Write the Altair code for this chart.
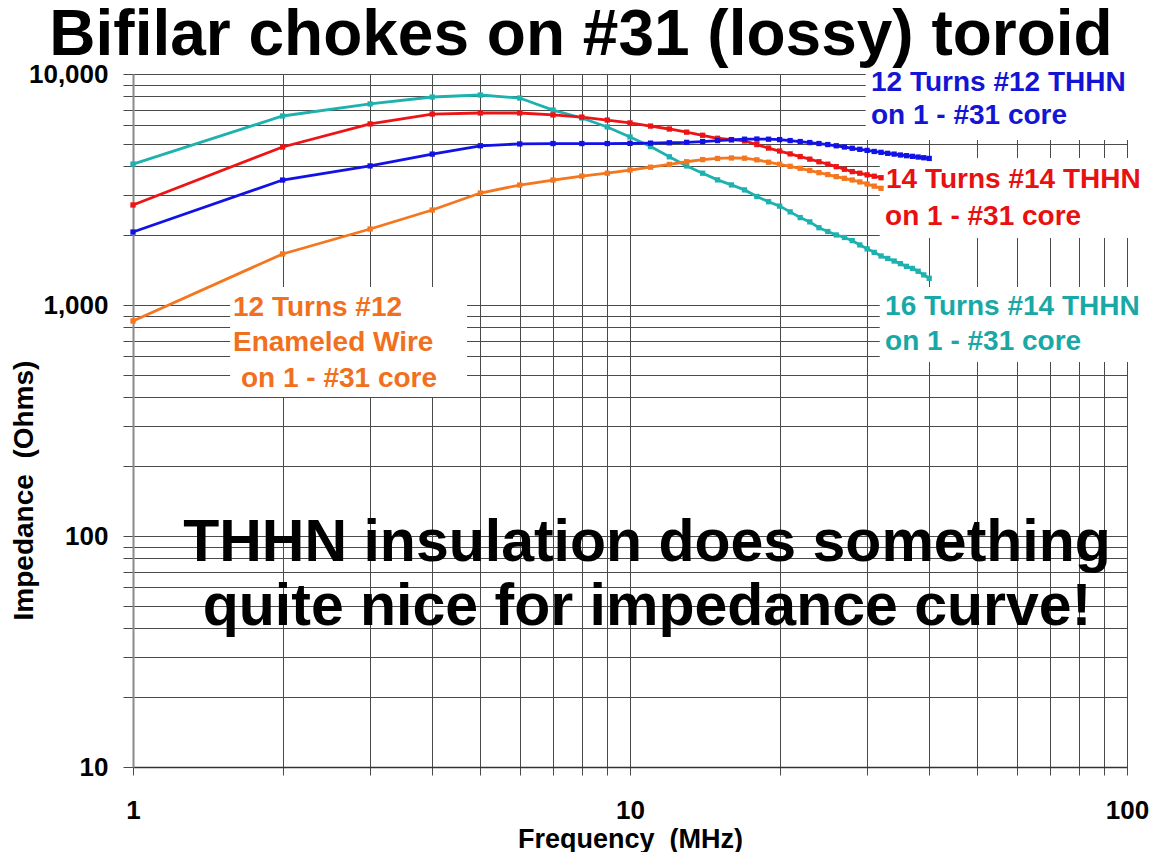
import altair as alt
import pandas as pd

# ---------------- data ----------------
freq_long = list(range(1, 41))   # MHz, blue & cyan series
freq_short = list(range(1, 33))  # MHz, red & orange series

blue_12t_thhn = [2070, 3475, 4000, 4500, 4890, 4980, 5000, 5000, 5000, 5010,
                 5020, 5040, 5060, 5100, 5150, 5190, 5220, 5230, 5220, 5200,
                 5150, 5100, 5050, 5000, 4950, 4890, 4830, 4770, 4720, 4670,
                 4620, 4580, 4535, 4500, 4460, 4430, 4400, 4370, 4340, 4310]
cyan_16t_thhn = [4075, 6580, 7420, 7950, 8110, 7870, 6980, 6450, 5900, 5340,
                 4850, 4380, 4000, 3720, 3480, 3310, 3150, 2950, 2800, 2680,
                 2530, 2390, 2290, 2160, 2080, 2010, 1960, 1900, 1820, 1750,
                 1690, 1630, 1590, 1550, 1510, 1470, 1440, 1400, 1350, 1305]
red_14t_thhn = [2710, 4830, 6080, 6710, 6780, 6780, 6650, 6510, 6320, 6140,
                5950, 5780, 5600, 5430, 5270, 5200, 5130, 4950, 4780, 4640,
                4510, 4390, 4280, 4170, 4070, 3970, 3870, 3780, 3720, 3660,
                3610, 3557]
orange_12t_enamel = [853, 1663, 2133, 2578, 3053, 3307, 3476, 3615, 3720, 3840,
                     3950, 4060, 4170, 4260, 4310, 4330, 4320, 4250, 4150, 4065,
                     3985, 3906, 3820, 3740, 3670, 3594, 3535, 3476, 3410, 3340,
                     3270, 3200]

series_names = ["16 Turns #14 THHN", "14 Turns #14 THHN",
                "12 Turns #12 THHN", "12 Turns #12 Enameled"]
series_colors = ["#1DB1AF", "#EC1414", "#1212E6", "#F4761F"]

x_ticks = [1, 2, 3, 4, 5, 6, 7, 8, 9, 10, 20, 30, 40, 50, 60, 70, 80, 90, 100]
y_ticks = [10, 20, 30, 40, 50, 60, 70, 80, 90, 100, 200, 300, 400, 500, 600,
           700, 800, 900, 1000, 2000, 3000, 4000, 5000, 6000, 7000, 8000,
           9000, 10000]

rows = []
for name, fr, vals in [(series_names[0], freq_long, cyan_16t_thhn),
                       (series_names[1], freq_short, red_14t_thhn),
                       (series_names[2], freq_long, blue_12t_thhn),
                       (series_names[3], freq_short, orange_12t_enamel)]:
    for f, z in zip(fr, vals):
        rows.append({"series": name, "f": f, "z": z})
df = pd.DataFrame(rows)

# ---------------- annotations (data coordinates) ----------------
label_lines = ["12 Turns #12 THHN", "on 1 - #31 core",
               "14 Turns #14 THHN", "on 1 - #31 core",
               "16 Turns #14 THHN", "on 1 - #31 core",
               "12 Turns #12", "Enameled Wire", "on 1 - #31 core"]
label_f = [30.54, 30.54, 32.74, 32.6, 32.6, 32.6, 1.589, 1.589, 1.649]
label_z = [8440, 6075, 3210, 2220, 905, 639, 896, 632, 442]
label_color = ["#1414D4", "#1414D4", "#E81010", "#E81010",
               "#1AA8A6", "#1AA8A6", "#F07020", "#F07020", "#F07020"]
labels_df = pd.DataFrame({"text": label_lines, "f": label_f, "z": label_z,
                          "color": label_color})

box_f1 = [29.8, 31.8, 31.8, 1.568]
box_f2 = [120, 120, 120, 4.70]
box_z1 = [5180, 1950, 567, 400]
box_z2 = [11300, 4330, 1196, 1196]
boxes_df = pd.DataFrame({"f1": box_f1, "f2": box_f2, "z1": box_z1, "z2": box_z2})

note_lines = ["THHN insulation does something", "quite nice for impedance curve!"]
note_f = [10.82, 10.82]
note_z = [77.9, 41.2]
note_df = pd.DataFrame({"text": note_lines, "f": note_f, "z": note_z})

FONT = "Liberation Sans"

xscale = alt.Scale(type="log", domain=[1, 100], nice=False)
yscale = alt.Scale(type="log", domain=[10, 10000], nice=False)

x_axis = alt.Axis(values=x_ticks,
                  labelExpr="indexof([1,10,100], datum.value) >= 0 ? format(datum.value, ',d') : ''",
                  labelOverlap=False, labelFlush=False, labelBound=False,
                  grid=True, gridColor="#4a4a4a", gridWidth=1,
                  tickSize=8, tickColor="#4a4a4a",
                  domainColor="#333", domainWidth=1.5,
                  labelFontSize=26, labelFont=FONT, labelFontWeight="bold",
                  labelColor="#000", labelBaseline="alphabetic", labelPadding=43,
                  title="Frequency\u00a0 (MHz)", titleFontSize=27, titleFont=FONT,
                  titleFontWeight="bold", titleColor="#000",
                  titleBaseline="alphabetic", titleY=80, titleX=497)
y_axis = alt.Axis(values=y_ticks,
                  labelExpr="indexof([10,100,1000,10000], datum.value) >= 0 ? format(datum.value, ',d') : ''",
                  labelOverlap=False, labelFlush=False, labelBound=False,
                  grid=True, gridColor="#4a4a4a", gridWidth=1,
                  tickSize=10, tickColor="#4a4a4a",
                  domainColor="#8a8a8a", domainWidth=2,
                  labelFontSize=26, labelFont=FONT, labelFontWeight="bold",
                  labelColor="#000", labelPadding=15,
                  title="Impedance\u00a0 (Ohms)", titleFontSize=28, titleFont=FONT,
                  titleFontWeight="bold", titleColor="#000",
                  titleAngle=-90, titleAlign="center", titleBaseline="alphabetic",
                  titleX=-101, titleY=416)

boxes = alt.Chart(boxes_df).mark_rect(fill="white", clip=False).encode(
    x=alt.X("f1:Q", scale=xscale, axis=x_axis),
    x2="f2:Q",
    y=alt.Y("z1:Q", scale=yscale, axis=y_axis),
    y2="z2:Q",
)

lines = alt.Chart(df).mark_line(
    strokeWidth=2.8,
    point=alt.OverlayMarkDef(shape="square", size=28, filled=True),
).encode(
    x=alt.X("f:Q", scale=xscale),
    y=alt.Y("z:Q", scale=yscale),
    color=alt.Color("series:N", scale=alt.Scale(domain=series_names, range=series_colors),
                    legend=None),
)

labels = alt.Chart(labels_df).mark_text(
    align="left", baseline="alphabetic", font=FONT, fontSize=28,
    fontWeight="bold", clip=False,
).encode(
    x=alt.X("f:Q", scale=xscale),
    y=alt.Y("z:Q", scale=yscale),
    text="text:N",
    color=alt.Color("color:N", scale=None),
)

note = alt.Chart(note_df).mark_text(
    align="center", baseline="alphabetic", font=FONT, fontSize=59,
    fontWeight="bold", color="#000",
).encode(
    x=alt.X("f:Q", scale=xscale),
    y=alt.Y("z:Q", scale=yscale),
    text="text:N",
)

chart = alt.layer(boxes, lines, labels, note).properties(
    width=994, height=693,
    title=alt.TitleParams("Bifilar chokes on #31 (lossy) toroid", fontSize=64,
                          font=FONT, fontWeight="bold", color="#000",
                          anchor="middle", dx=-49, dy=16, offset=9),
    padding={"left": 125, "top": 66, "right": 29, "bottom": 85},
    autosize=alt.AutoSizeParams(type="none"),
).configure_view(stroke="#8a8a8a", strokeWidth=1.5).configure(background="white")

chart.save("out.html", embed_options={"renderer": "svg", "actions": False})
